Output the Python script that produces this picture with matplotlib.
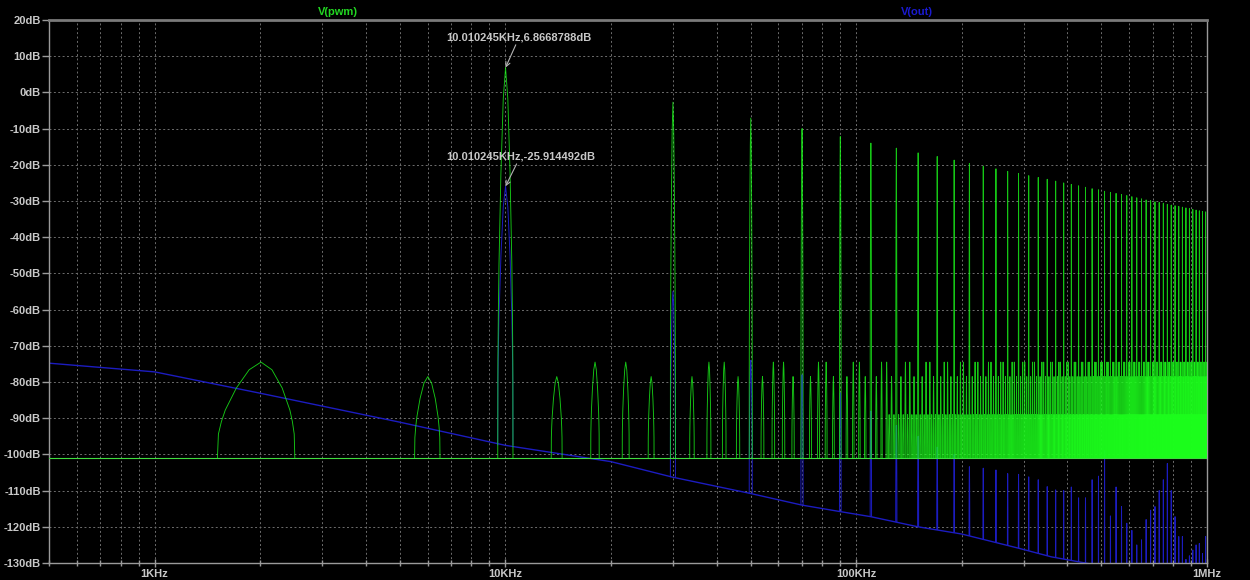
import numpy as np
import matplotlib
matplotlib.use("Agg")
import matplotlib.pyplot as plt
from matplotlib.collections import LineCollection
from matplotlib.ticker import LogLocator, FixedLocator, FixedFormatter, NullFormatter

# PWM carrier and its odd harmonics
fund_hz = 10010.245
harm_n = np.arange(1, 100, 2)

# V(pwm) harmonic peaks, dB
pwm_harm_db = [6.8668788, -2.7, -7.1, -10.0, -12.2, -14.0, -15.4, -16.7, -17.7, -18.7,
               -19.6, -20.4, -21.1, -21.8, -22.4, -23.0, -23.5, -24.0, -24.5, -25.0,
               -25.4, -25.8, -26.2, -26.6, -26.9, -27.3, -27.6, -27.9, -28.2, -28.5,
               -28.8, -29.1, -29.4, -29.7, -29.9, -30.2, -30.4, -30.6, -30.9, -31.1,
               -31.3, -31.5, -31.7, -31.9, -32.1, -32.3, -32.5, -32.7, -32.9, -33.0]

# V(out) harmonic peaks, dB
out_harm_db = [-25.914492, -55, -74, -78, -83, -88, -92, -95, -98, -100,
               -103.4, -103.8, -104.3, -105.3, -105.5, -106.2, -107, -108.9, -109.8, -110,
               -109, -112, -112, -107, -106, -99, -117, -109, -114.4, -119,
               -121, -125, -123.6, -118, -115.4, -114.4, -110, -107, -102.5, -110,
               -117.2, -122.7, -122.7, -129, -128, -126.4, -125, -124.6, -127.4, -122.7]

pwm_floor_db = -101.0

# sideband spurs around every harmonic (kHz offset, dB)
spur_offset_khz = [-8, -4, 4, 8]
spur_db = [-74.5, -78.5, -78.5, -74.5]

# weaker spurs that fill in above ~130 kHz
minor_offset_khz = [-6, -2, 2, 6, 10]
minor_spur_db = -89.0
minor_from_hz = 130e3

# V(out) background level
out_floor_hz = [500, 1e3, 2e3, 5e3, 10e3, 20e3, 30e3, 50e3, 70e3, 90e3,
                110e3, 150e3, 200e3, 290e3, 360e3, 450e3, 1e6]
out_floor_db = [-74.8, -77.2, -83.1, -91.1, -97.5, -102, -106.3, -110.8, -114, -115.8,
                -117.2, -120, -122, -125.9, -128.3, -130, -136]

# shape of one FFT line: distance from centre (Hz) vs fraction of its height lost
lobe_hz = [0, 150, 300, 420, 460, 490, 500]
lobe_drop = [0, 0.08, 0.27, 0.5, 0.62, 0.75, 1.0]

y_ticks = list(range(-130, 21, 10))
x_major = [1e3, 1e4, 1e5, 1e6]
x_major_labels = ["1KHz", "10KHz", "100KHz", "1MHz"]

GREEN = "#1cff1c"
BLUE = "#1c1cc0"
GRID = "#6e6e6e"
TEXT = "#c8c8c8"

lobe_x = np.concatenate([-np.array(lobe_hz[:0:-1], float), np.array(lobe_hz, float)])
lobe_d = np.concatenate([np.array(lobe_drop[:0:-1]), np.array(lobe_drop)])


def lobe(fc, peak, base):
    return np.column_stack([fc + lobe_x, base + (peak - base) * (1 - lobe_d)])


plt.rcParams["font.family"] = ["Liberation Sans", "DejaVu Sans"]

fig = plt.figure(figsize=(12.5, 5.8), dpi=100, facecolor="black")
ax = fig.add_axes([49 / 1250, 17 / 580, 1158 / 1250, 543 / 580], facecolor="black")
ax.set_xscale("log")
ax.set_xlim(500, 1e6)
ax.set_ylim(-130, 20)

centres = harm_n * fund_hz

# V(out): background slope plus its harmonic lines
ax.plot(out_floor_hz, out_floor_db, color=BLUE, lw=1.0, zorder=2)
log_fl = np.log10(out_floor_hz)
out_segs = []
for fc, pk in zip(centres, out_harm_db):
    base = np.interp(np.log10(fc), log_fl, out_floor_db)
    out_segs.append(lobe(fc, pk, base))
ax.add_collection(LineCollection(out_segs, colors=BLUE, linewidths=0.7, zorder=2))

# V(pwm): flat floor, harmonics and spurs
pwm_segs = []
for fc, pk in zip(centres, pwm_harm_db):
    pwm_segs.append(lobe(fc, pk, pwm_floor_db))
    for off, lv in zip(spur_offset_khz, spur_db):
        pwm_segs.append(lobe(fc + off * 1e3, lv, pwm_floor_db))
    if fc >= minor_from_hz:
        for off in minor_offset_khz:
            if fc + off * 1e3 < 1e6:
                pwm_segs.append(lobe(fc + off * 1e3, minor_spur_db, pwm_floor_db))
ax.plot([500, 1e6], [pwm_floor_db, pwm_floor_db], color="#40dc40", lw=0.8, zorder=3)
ax.add_collection(LineCollection(pwm_segs, colors=GREEN, linewidths=0.65, alpha=0.78,
                                 zorder=3))

# axes styling
ax.set_yticks(y_ticks)
ax.set_yticklabels([f"{v}dB" for v in y_ticks])
ax.xaxis.set_major_locator(FixedLocator(x_major))
ax.xaxis.set_major_formatter(FixedFormatter(x_major_labels))
ax.xaxis.set_minor_locator(LogLocator(base=10, subs=range(2, 10)))
ax.xaxis.set_minor_formatter(NullFormatter())

ax.tick_params(axis="y", colors="#9a9a9a", labelcolor=TEXT, length=5, width=1, pad=1,
               labelsize=8)
ax.tick_params(axis="x", which="major", colors="#9a9a9a", labelcolor=TEXT, direction="inout",
               length=6, width=1, pad=1, labelsize=8)
ax.tick_params(axis="x", which="minor", colors="#9a9a9a", direction="inout", length=4, width=1)
for lab in ax.get_xticklabels() + ax.get_yticklabels():
    lab.set_fontweight("bold")

ax.grid(which="both", color=GRID, linestyle=(0, (2, 2.5)), linewidth=0.7)
for side in ["left", "bottom", "right"]:
    ax.spines[side].set_color("#9a9a9a")
    ax.spines[side].set_linewidth(1.0)
ax.spines["top"].set_color("#7a7a7a")
ax.spines["top"].set_linewidth(2.0)

# trace names
fig.text(338 / 1250, 1 - 12 / 580, "V(pwm)", color="#22d822", fontsize=8,
         fontweight="bold", ha="center", va="center")
fig.text(917 / 1250, 1 - 12 / 580, "V(out)", color="#1a1ad0", fontsize=8,
         fontweight="bold", ha="center", va="center")

# cursor readouts on the fundamental
arrow = dict(arrowstyle="->", color="#b4b4b4", lw=0.8, mutation_scale=8, shrinkA=0, shrinkB=0)
ax.annotate(f"{fund_hz / 1e3:.6f}KHz,{pwm_harm_db[0]}dB", xy=(fund_hz, pwm_harm_db[0]),
            xytext=(6.8e3, 15.3), textcoords="data", color=TEXT, fontsize=8,
            fontweight="bold", ha="left", va="center", arrowprops=arrow, zorder=5)
ax.annotate(f"{fund_hz / 1e3:.6f}KHz,{out_harm_db[0]}dB", xy=(fund_hz, out_harm_db[0]),
            xytext=(6.77e3, -17.6), textcoords="data", color=TEXT, fontsize=8,
            fontweight="bold", ha="left", va="center", arrowprops=arrow, zorder=5)

fig.savefig("out.png", dpi=100, facecolor="black")
